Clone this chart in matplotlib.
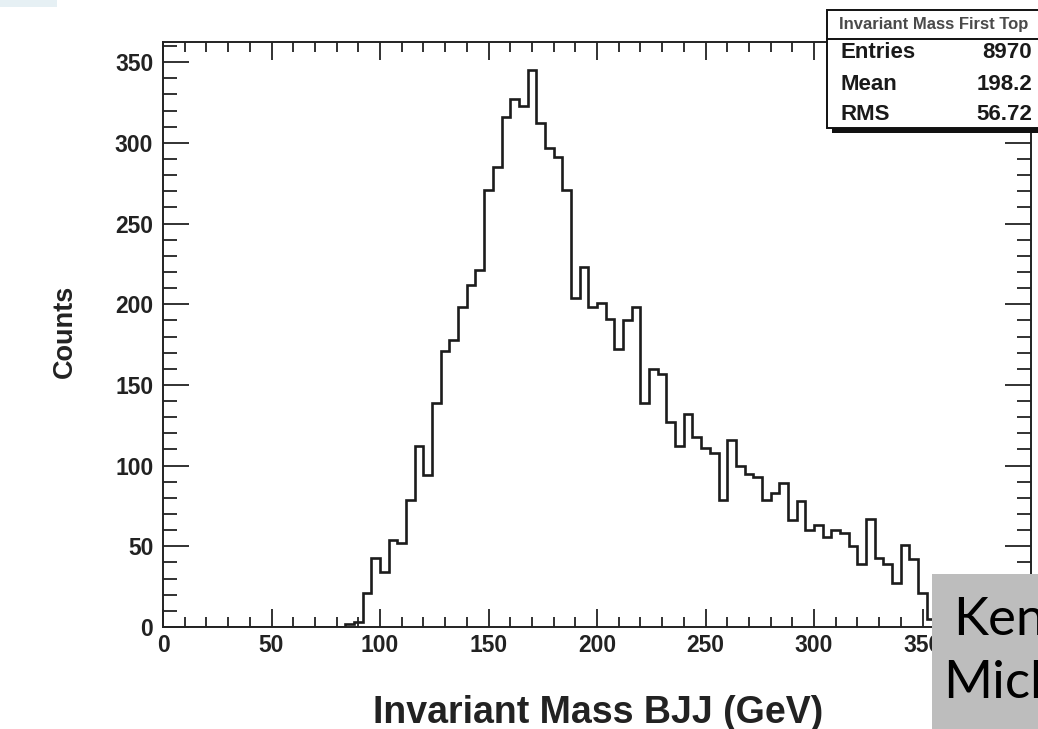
import numpy as np
import matplotlib
matplotlib.use('Agg')
import matplotlib.pyplot as plt
from matplotlib.patches import Rectangle
from matplotlib.ticker import MultipleLocator

plt.rcParams['font.family'] = ['Liberation Sans', 'DejaVu Sans']

# histogram: 4 GeV bins, counts (empty bins left out)
bin_starts = [84, 88, 92, 96, 100, 104, 108, 112, 116, 120, 124, 128, 132, 136,
              140, 144, 148, 152, 156, 160, 164, 168, 172, 176, 180, 184, 188,
              192, 196, 200, 204, 208, 212, 216, 220, 224, 228, 232, 236, 240,
              244, 248, 252, 256, 260, 264, 268, 272, 276, 280, 284, 288, 292,
              296, 300, 304, 308, 312, 316, 320, 324, 328, 332, 336, 340, 344,
              348, 352, 356]
bin_counts = [2, 3, 21, 43, 34, 54, 52, 79, 112, 94, 139, 171, 178, 198,
              212, 221, 271, 285, 316, 327, 323, 345, 312, 297, 291, 271, 204,
              223, 198, 201, 191, 172, 190, 198, 139, 160, 157, 127, 112, 132,
              118, 111, 108, 79, 116, 100, 95, 93, 79, 83, 89, 66, 78,
              60, 63, 56, 60, 58, 50, 39, 67, 43, 39, 27, 51, 42,
              21, 5, 2]
bin_width = 4
x_range = (0, 400)
x_tick_labels = [0, 50, 100, 150, 200, 250, 300, 350]

stats_title = 'Invariant Mass First Top'
stats_names = ['Entries', 'Mean', 'RMS']
stats_values = ['8970', '198.2', '56.72']

x_title = 'Invariant Mass BJJ (GeV)'
y_title = 'Counts'

W, H = 1038, 729


def px_rect(x0, y0, x1, y1):
    # figure-fraction rectangle from pixel corners (y measured from top)
    return (x0 / W, 1 - y1 / H), (x1 - x0) / W, (y1 - y0) / H


edges = np.arange(x_range[0], x_range[1] + bin_width, bin_width)
counts = np.zeros(len(edges) - 1)
for s, c in zip(bin_starts, bin_counts):
    counts[(s - x_range[0]) // bin_width] = c

fig = plt.figure(figsize=(W / 100, H / 100), dpi=100)
fig.patch.set_facecolor('white')

ax = fig.add_axes([163 / W, 1 - 627 / H, (1031 - 163) / W, (627 - 42) / H])
ax.stairs(counts, edges, color='#1c1c1c', lw=1.9)
ax.set_xlim(*x_range)
ax.set_ylim(0, 362.5)

ax.set_xticks(x_tick_labels)
ax.xaxis.set_minor_locator(MultipleLocator(10))
ax.yaxis.set_major_locator(MultipleLocator(50))
ax.yaxis.set_minor_locator(MultipleLocator(10))
ax.tick_params(axis='both', which='both', direction='in', top=True, right=True,
               color='#222222', width=1.3, labelcolor='#222222')
ax.tick_params(axis='x', which='major', length=13, pad=5, labelsize=16.5)
ax.tick_params(axis='x', which='minor', length=7)
ax.tick_params(axis='y', which='major', length=19, pad=7, labelsize=16.5)
ax.tick_params(axis='y', which='minor', length=10)
for lab in ax.get_xticklabels() + ax.get_yticklabels():
    lab.set_fontweight('bold')
# ROOT keeps a major tick at 400 on the frame edge
ax.plot([400, 400], [0, 362.5 * 13 / 585], color='#222222', lw=1.3,
        clip_on=False)
for sp in ax.spines.values():
    sp.set_linewidth(1.4)
    sp.set_color('#222222')

ax.set_xlabel(x_title, fontsize=27, fontweight='bold', color='#222222')
ax.xaxis.set_label_coords(0.501, -0.147)
ax.xaxis.label.set_va('center')
ax.set_ylabel(y_title, fontsize=19.5, fontweight='bold', color='#222222')
ax.yaxis.set_label_coords(-0.113, 0.505)
ax.yaxis.label.set_va('center')

# stats box with shadow
xy, w, h = px_rect(832, 15, 1045, 133)
fig.add_artist(Rectangle(xy, w, h, transform=fig.transFigure,
                         facecolor='#111111', edgecolor='none', zorder=5))
xy, w, h = px_rect(827, 10, 1042, 128)
fig.add_artist(Rectangle(xy, w, h, transform=fig.transFigure,
                         facecolor='white', edgecolor='#111111', lw=1.4, zorder=6))
fig.add_artist(plt.Line2D([827 / W, 1.0], [1 - 39 / H, 1 - 39 / H],
                          transform=fig.transFigure, color='#111111', lw=1.4,
                          zorder=7))
fig.text(934 / W, 1 - 25 / H, stats_title, fontsize=12, fontweight='bold',
         color='#4a4a4a', ha='center', va='center', zorder=8)
for i, (name, val) in enumerate(zip(stats_names, stats_values)):
    yy = 1 - (53 + 31 * i) / H
    fig.text(841 / W, yy, name, fontsize=16, fontweight='bold', color='#1a1a1a',
             ha='left', va='center', zorder=8)
    fig.text(1032 / W, yy, val, fontsize=16, fontweight='bold', color='#1a1a1a',
             ha='right', va='center', zorder=8)

# small tinted patch in the top-left corner
xy, w, h = px_rect(0, 0, 57, 7)
fig.add_artist(Rectangle(xy, w, h, transform=fig.transFigure,
                         facecolor='#e6f0f4', edgecolor='none', zorder=5))

# grey caption box in the bottom-right corner (cut off by the frame)
xy, w, h = px_rect(932, 574, 1040, 731)
fig.add_artist(Rectangle(xy, w, h, transform=fig.transFigure,
                         facecolor='#bdbdbd', edgecolor='none', zorder=9))
fig.text(953 / W, 1 - 635 / H, 'Ken', fontsize=38, family='Lato',
         color='black', ha='left', va='baseline', zorder=10)
fig.text(943 / W, 1 - 698 / H, 'Mich', fontsize=38, family='Lato',
         color='black', ha='left', va='baseline', zorder=10)

fig.savefig('out.png', dpi=100)
